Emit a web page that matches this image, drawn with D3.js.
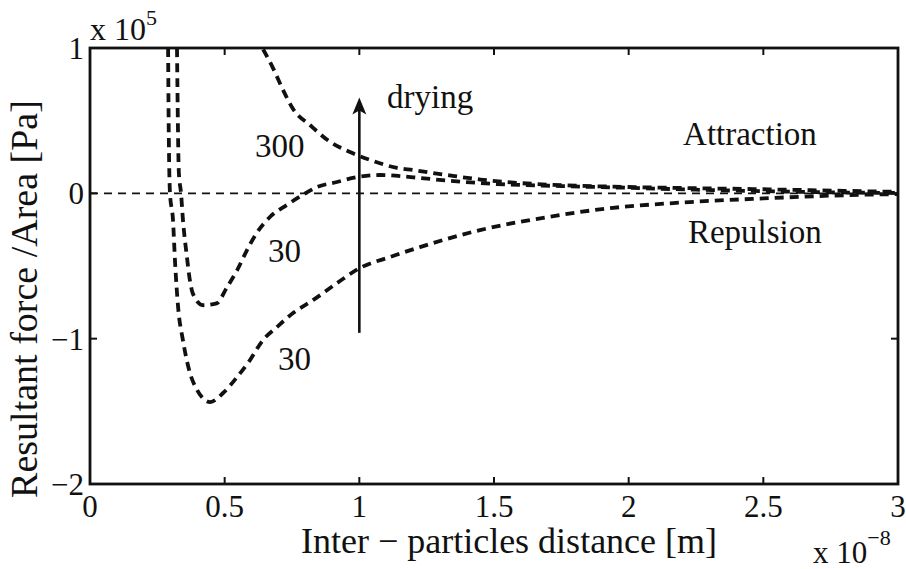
<!DOCTYPE html>
<html>
<head>
<meta charset="utf-8">
<script src="https://cdn.jsdelivr.net/npm/d3@7"></script>
<style>
  body { margin: 0; background: #fff; }
</style>
</head>
<body>
<script>
width = 906
height = 569
margin = ({top: 48, right: 8, bottom: 85, left: 90})

// distance in 1e-8 m, force/area in 1e5 Pa
dist300 = [0.643, 0.68, 0.717, 0.754, 0.817, 0.891, 0.965, 1.04, 1.14, 1.2, 1.325, 1.45, 1.53, 1.7, 1.94, 2.16, 2.5, 2.8, 3.0]
force300 = [0.99, 0.86, 0.71, 0.58, 0.47, 0.355, 0.284, 0.23, 0.175, 0.16, 0.126, 0.095, 0.08, 0.06, 0.046, 0.038, 0.028, 0.017, 0.01]

distUpper30 = [0.323, 0.330, 0.338, 0.345, 0.36, 0.371, 0.382, 0.42, 0.47, 0.509, 0.546, 0.583, 0.62, 0.668, 0.731, 0.791, 0.843, 0.917, 0.991, 1.077, 1.2, 1.325, 1.5, 1.75, 2.0, 2.25, 2.5, 2.75, 3.0]
forceUpper30 = [1.0, 0.14, 0, -0.18, -0.44, -0.6, -0.69, -0.77, -0.757, -0.645, -0.53, -0.39, -0.27, -0.163, -0.08, -0.01, 0.043, 0.078, 0.112, 0.126, 0.11, 0.088, 0.065, 0.05, 0.038, 0.025, 0.015, 0.007, 0.003]

distLower30 = [0.29, 0.292, 0.297, 0.308, 0.316, 0.327, 0.345, 0.371, 0.397, 0.446, 0.494, 0.546, 0.594, 0.642, 0.694, 0.754, 0.828, 0.917, 1.002, 1.114, 1.225, 1.448, 1.696, 1.942, 2.165, 2.5, 2.8, 3.0]
forceLower30 = [1.0, 0.5, 0, -0.18, -0.48, -0.78, -1.01, -1.235, -1.35, -1.436, -1.374, -1.264, -1.147, -1.01, -0.92, -0.824, -0.735, -0.618, -0.514, -0.438, -0.37, -0.253, -0.164, -0.10, -0.067, -0.035, -0.013, -0.005]

xTicks = [0, 0.5, 1, 1.5, 2, 2.5, 3]
yTicks = [1, 0, -1, -2]

curveLabels = [
  {text: "300", x: 0.613, y: 0.25},
  {text: "30", x: 0.661, y: -0.473},
  {text: "30", x: 0.698, y: -1.217},
  {text: "drying", x: 1.103, y: 0.587},
  {text: "Attraction", x: 2.202, y: 0.333},
  {text: "Repulsion", x: 2.22, y: -0.342}
]

arrowX = 1.0
arrowFrom = -0.96
arrowTo = 0.66

serif = "'Liberation Serif', 'Times New Roman', Times, serif"

x = d3.scaleLinear()
  .domain([0, 3])
  .range([margin.left, width - margin.right])

y = d3.scaleLinear()
  .domain([-2, 1])
  .range([height - margin.bottom, margin.top])

const svg = d3.select("body").append("svg")
  .attr("width", width)
  .attr("height", height)
  .attr("font-family", serif)
  .attr("fill", "#111")

svg.append("clipPath").attr("id", "plot")
  .append("rect")
  .attr("x", x(0)).attr("y", y(1))
  .attr("width", x(3) - x(0)).attr("height", y(-2) - y(1))

// zero line
svg.append("line")
  .attr("x1", x(0)).attr("x2", x(3))
  .attr("y1", y(0)).attr("y2", y(0))
  .attr("stroke", "#111")
  .attr("stroke-width", 1.8)
  .attr("stroke-dasharray", "8,6")

line = d3.line()
  .x(d => x(d[0]))
  .y(d => y(d[1]))
  .curve(d3.curveMonotoneX)

series = [
  d3.zip(dist300, force300),
  d3.zip(distUpper30, forceUpper30),
  d3.zip(distLower30, forceLower30)
]

svg.append("g")
  .attr("clip-path", "url(#plot)")
  .selectAll("path")
  .data(series)
  .join("path")
    .attr("d", line)
    .attr("fill", "none")
    .attr("stroke", "#111")
    .attr("stroke-width", 3.8)
    .attr("stroke-dasharray", "9,6")

// arrow
svg.append("line")
  .attr("x1", x(arrowX)).attr("x2", x(arrowX))
  .attr("y1", y(arrowFrom)).attr("y2", y(arrowTo) + 12)
  .attr("stroke", "#111")
  .attr("stroke-width", 2.6)

svg.append("path")
  .attr("d", `M${x(arrowX)},${y(arrowTo)} L${x(arrowX) + 7},${y(arrowTo) + 17} L${x(arrowX)},${y(arrowTo) + 13} L${x(arrowX) - 7},${y(arrowTo) + 17} Z`)
  .attr("fill", "#111")

// frame
svg.append("rect")
  .attr("x", x(0)).attr("y", y(1))
  .attr("width", x(3) - x(0)).attr("height", y(-2) - y(1))
  .attr("fill", "none")
  .attr("stroke", "#111")
  .attr("stroke-width", 2.8)

// inward ticks
const ticks = svg.append("g").attr("stroke", "#111").attr("stroke-width", 2)
xTicks.forEach(t => {
  ticks.append("line").attr("x1", x(t)).attr("x2", x(t)).attr("y1", y(-2)).attr("y2", y(-2) - 7)
  ticks.append("line").attr("x1", x(t)).attr("x2", x(t)).attr("y1", y(1)).attr("y2", y(1) + 7)
})
yTicks.forEach(t => {
  ticks.append("line").attr("x1", x(0)).attr("x2", x(0) + 7).attr("y1", y(t)).attr("y2", y(t))
  ticks.append("line").attr("x1", x(3)).attr("x2", x(3) - 7).attr("y1", y(t)).attr("y2", y(t))
})

// tick labels
svg.append("g")
  .attr("font-size", 31)
  .attr("text-anchor", "middle")
  .selectAll("text")
  .data(xTicks)
  .join("text")
    .attr("x", d => x(d))
    .attr("y", y(-2) + 33)
    .text(d => d)

svg.append("g")
  .attr("font-size", 31)
  .attr("text-anchor", "end")
  .selectAll("text")
  .data(yTicks)
  .join("text")
    .attr("x", x(0) - 6)
    .attr("y", d => y(d) + 11)
    .text(d => d < 0 ? "\u2212" + Math.abs(d) : d)

// exponents
const e5 = svg.append("text").attr("x", x(0)).attr("y", y(1) - 8).attr("font-size", 32)
e5.append("tspan").text("x 10")
e5.append("tspan").attr("dy", -15).attr("font-size", 22).text("5")

const e8 = svg.append("text").attr("x", x(3) - 85).attr("y", height - 6).attr("font-size", 31)
e8.append("tspan").text("x 10")
e8.append("tspan").attr("dy", -18).attr("font-size", 22).text("\u22128")

// axis titles
svg.append("text")
  .attr("x", 509)
  .attr("y", 553)
  .attr("text-anchor", "middle")
  .attr("font-size", 36)
  .text("Inter \u2212 particles distance [m]")

svg.append("text")
  .attr("transform", `translate(37,299) rotate(-90)`)
  .attr("text-anchor", "middle")
  .attr("font-size", 38)
  .text("Resultant force /Area [Pa]")

// annotations
svg.append("g")
  .attr("font-size", 33)
  .selectAll("text")
  .data(curveLabels)
  .join("text")
    .attr("x", d => x(d.x))
    .attr("y", d => y(d.y))
    .text(d => d.text)
</script>
</body>
</html>
